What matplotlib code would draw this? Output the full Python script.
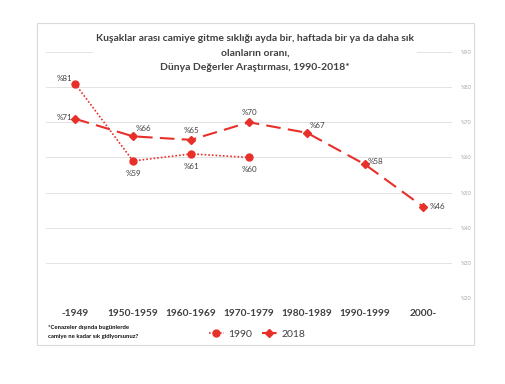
import matplotlib
matplotlib.use("Agg")
import matplotlib.pyplot as plt
from matplotlib.patches import Rectangle
from matplotlib.lines import Line2D

categories = ["-1949", "1950-1959", "1960-1969", "1970-1979", "1980-1989", "1990-1999", "2000-"]
values_1990 = [81, 59, 61, 60]
values_2018 = [71, 66, 65, 70, 67, 58, 46]
yticks = [20, 30, 40, 50, 60, 70, 80, 90]

title = ("Kuşaklar arası camiye gitme sıklığı ayda bir, haftada bir ya da daha sık\n"
         "olanların oranı,\n"
         "Dünya Değerler Araştırması, 1990-2018*")
footnote = "*Cenazeler dışında bugünlerde\ncamiye ne kadar sık gidiyorsunuz?"

red = "#e8302a"
plt.rcParams["font.family"] = ["Lato", "DejaVu Sans"]

fig = plt.figure(figsize=(5.06, 3.84), dpi=100)
fig.patch.set_facecolor("white")
fig.patches.append(Rectangle((37 / 506, 1 - 345 / 384), 437 / 506, 322 / 384,
                             transform=fig.transFigure, fill=False,
                             edgecolor="#d9d9d9", linewidth=0.8))

ax = fig.add_axes([46 / 506, 1 - 298 / 384, 406 / 506, 246 / 384])
x1990 = list(range(len(values_1990)))
x2018 = list(range(len(values_2018)))

ax.plot(x1990, values_1990, linestyle=(0, (1, 1.2)), color=red, linewidth=1.2,
        marker="o", markersize=5, label="1990", zorder=3)
ax.plot(x2018, values_2018, linestyle=(0, (7, 3.5)), color=red, linewidth=1.5,
        marker="D", markersize=4, label="2018", zorder=3)

ax.set_xlim(-0.5, len(categories) - 0.5)
ax.set_ylim(20, 90)
ax.set_yticks(yticks)
ax.grid(axis="y", color="#e3e3e3", linewidth=0.7)
ax.set_axisbelow(True)
for s in ax.spines.values():
    s.set_visible(False)
ax.yaxis.tick_right()
ax.set_yticklabels([f"%{v}" for v in yticks], fontsize=4, color="#a6a6a6")
ax.tick_params(axis="y", length=0, pad=6)
ax.set_xticks(range(len(categories)))
ax.set_xticklabels(categories, fontsize=7.3, color="#404040", fontweight="bold")
ax.tick_params(axis="x", length=0, pad=8)

lab = dict(fontsize=5.8, color="#404040", textcoords="offset points")
offs_1990 = [(-2, 4, "right"), (0, -9, "center"), (0, -9, "center"), (0, -9, "center")]
for x, v, (dx, dy, ha) in zip(x1990, values_1990, offs_1990):
    ax.annotate(f"%{v}", (x, v), xytext=(dx, dy), ha=ha, va="center", **lab)
offs_2018 = [(-2, 1, "right"), (2, 6, "left"), (0, 7, "center"), (0, 7, "center"),
             (2, 5, "left"), (2, 2, "left"), (5, 0, "left")]
for x, v, (dx, dy, ha) in zip(x2018, values_2018, offs_2018):
    ax.annotate(f"%{v}", (x, v), xytext=(dx, dy), ha=ha, va="center", **lab)

fig.text(255 / 506, 1 - 53 / 384, title, ha="center", va="center", fontsize=7.5,
         fontweight="bold", color="#404040", linespacing=1.8,
         bbox=dict(facecolor="white", edgecolor="none", pad=2))

fig.text(48 / 506, 1 - 332 / 384, footnote, ha="left", va="center", fontsize=4.3,
         fontweight="bold", color="#111111", linespacing=1.8)

handles = [Line2D([], [], linestyle=(0, (1, 1.2)), color=red, linewidth=1.2, marker="o", markersize=5),
           Line2D([], [], linestyle=(0, (7, 3.5)), color=red, linewidth=1.5, marker="D", markersize=4)]
fig.legend(handles, ["1990", "2018"], loc="center", bbox_to_anchor=(257 / 506, 1 - 334 / 384),
           ncol=2, frameon=False, fontsize=7.5, labelcolor="#404040", handlelength=1.5,
           handletextpad=0.4, columnspacing=0.9)

fig.savefig("out.png", dpi=100)
